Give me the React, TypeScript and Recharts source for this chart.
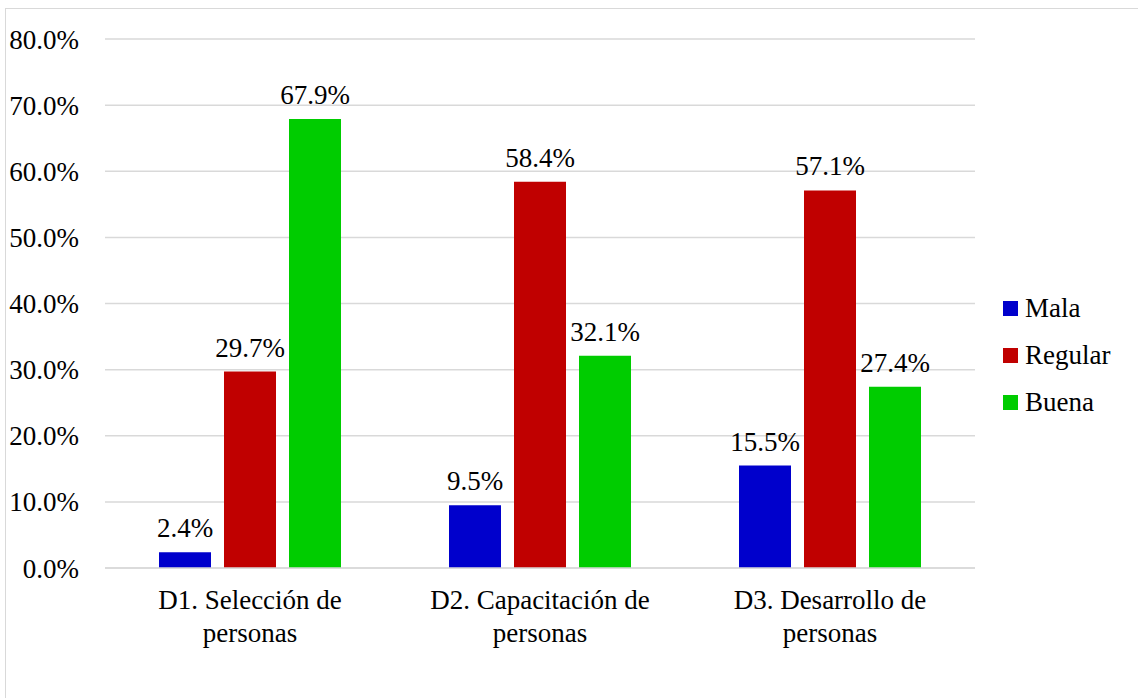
import { Bar, BarChart, CartesianGrid, LabelList, Legend, XAxis, YAxis } from "recharts";

const categories = ["D1. Selección de personas", "D2. Capacitación de personas", "D3. Desarrollo de personas"];
const categoryLines = [
  ["D1. Selección de", "personas"],
  ["D2. Capacitación de", "personas"],
  ["D3. Desarrollo de", "personas"],
];
const mala = [2.4, 9.5, 15.5];
const regular = [29.7, 58.4, 57.1];
const buena = [67.9, 32.1, 27.4];
const yTicks = [0, 10, 20, 30, 40, 50, 60, 70, 80];

const series = [
  { key: "mala", name: "Mala", color: "#0000CC" },
  { key: "regular", name: "Regular", color: "#C00000" },
  { key: "buena", name: "Buena", color: "#00CC00" },
];

const data = categories.map((c, i) => ({
  category: c,
  mala: mala[i],
  regular: regular[i],
  buena: buena[i],
}));

const FONT = "Liberation Serif, Tinos, DejaVu Serif, serif";
const pct = (v: number) => `${Number(v).toFixed(1)}%`;

function CategoryTick({ x, y, index }: { x?: number; y?: number; index?: number }) {
  const lines = categoryLines[index ?? 0] ?? [];
  return (
    <text x={x} y={(y ?? 0) + 41} textAnchor="middle" fill="#000" fontSize={27} style={{ fontFamily: FONT }}>
      {lines.map((l, i) => (
        <tspan key={i} x={x} dy={i === 0 ? 0 : 33}>
          {l}
        </tspan>
      ))}
    </text>
  );
}

function SideLegend() {
  return (
    <div style={{ fontFamily: FONT, fontSize: 27, color: "#000" }}>
      {series.map((s) => (
        <div key={s.key} style={{ height: 47, display: "flex", alignItems: "center" }}>
          <span style={{ width: 15, height: 15, background: s.color, marginRight: 7 }} />
          {s.name}
        </div>
      ))}
    </div>
  );
}

export default function App() {
  return (
    <div
      style={{
        position: "fixed",
        left: 0,
        top: 0,
        width: 1138,
        height: 698,
        overflow: "hidden",
        background: "#fff",
        fontFamily: FONT,
      }}
    >
      <div
        style={{
          position: "absolute",
          left: 5,
          top: 8,
          width: 1200,
          height: 800,
          border: "1px solid #d9d9d9",
        }}
      />
      <BarChart
        width={1138}
        height={698}
        data={data}
        margin={{ top: 39, right: 163, bottom: 30, left: 5 }}
        barSize={52}
        barGap={13}
        style={{ position: "absolute", left: 0, top: 0, fontFamily: FONT }}
      >
        <CartesianGrid vertical={false} stroke="#d9d9d9" strokeWidth={1.5} />
        <XAxis
          dataKey="category"
          height={100}
          tickLine={false}
          axisLine={{ stroke: "#d9d9d9", strokeWidth: 1.5 }}
          tickSize={0}
          tickMargin={0}
          interval={0}
          tick={<CategoryTick />}
        />
        <YAxis
          width={100}
          domain={[0, 80]}
          ticks={yTicks}
          tickFormatter={pct}
          axisLine={false}
          tickLine={false}
          tickSize={0}
          tickMargin={26}
          tick={{ fill: "#000", fontSize: 27, style: { fontFamily: FONT } }}
        />
        <Legend
          layout="vertical"
          align="center"
          verticalAlign="middle"
          content={<SideLegend />}
          wrapperStyle={{ left: 1003, top: 285, width: 135, height: 141 }}
        />
        {series.map((s) => (
          <Bar key={s.key} dataKey={s.key} name={s.name} fill={s.color} isAnimationActive={false}>
            <LabelList
              dataKey={s.key}
              position="top"
              offset={15}
              formatter={pct}
              fill="#000"
              fontSize={27}
              style={{ fontFamily: FONT }}
            />
          </Bar>
        ))}
      </BarChart>
    </div>
  );
}
